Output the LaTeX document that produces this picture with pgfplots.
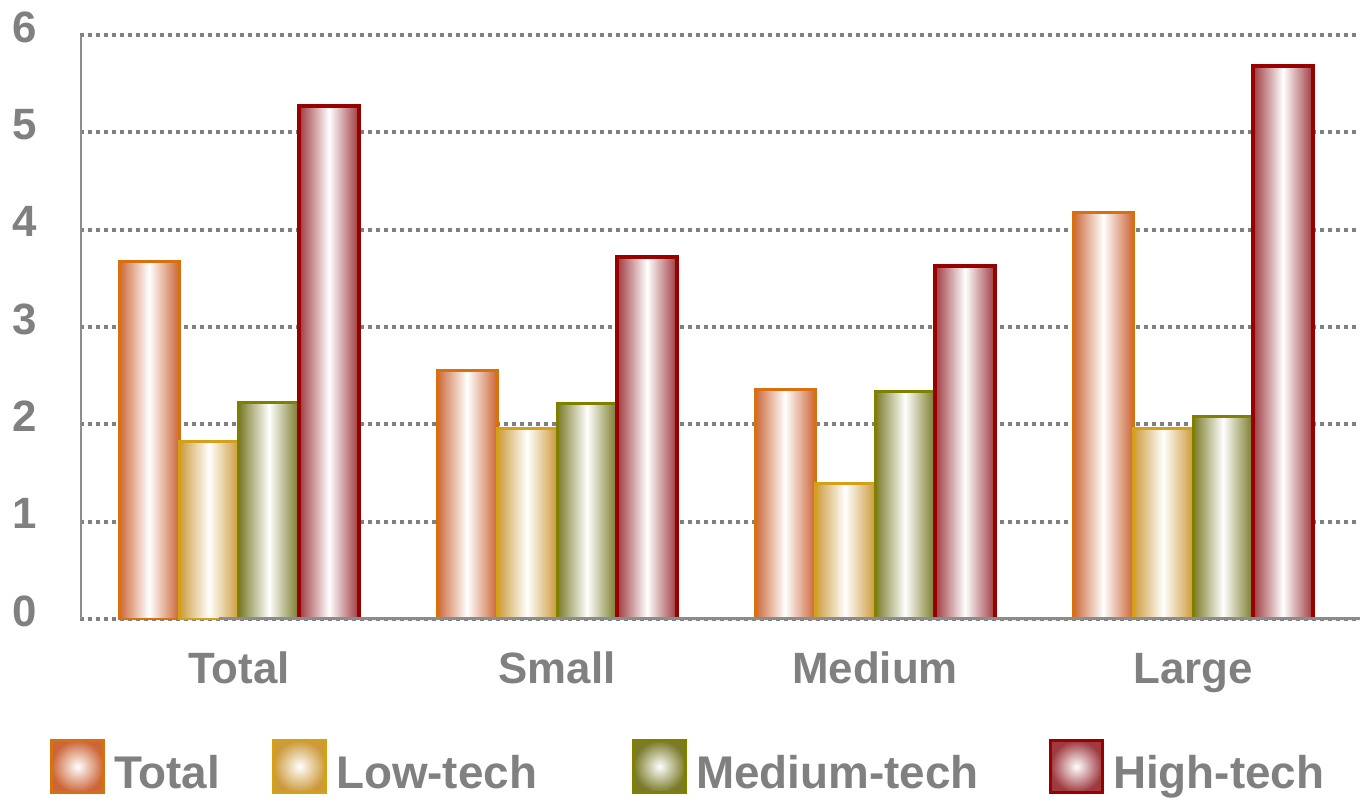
\documentclass[border=0pt]{standalone}
\usepackage{fontspec}
\setmainfont{Liberation Sans}
\usepackage{pgfplots}
\pgfplotsset{compat=1.18}
\definecolor{txtgray}{HTML}{808080}
\definecolor{axgray}{HTML}{8C8C8C}
\definecolor{cTot}{HTML}{D9700F}
\definecolor{cTotS}{HTML}{CC6638}
\definecolor{cLow}{HTML}{D4A017}
\definecolor{cLowS}{HTML}{CC9A3A}
\definecolor{cMed}{HTML}{808000}
\definecolor{cMedS}{HTML}{7A7A28}
\definecolor{cHigh}{HTML}{990000}
\definecolor{cHighS}{HTML}{9E3A40}
\pgfplotsset{
  sTot/.style={draw=cTot, line width=1.5bp, left color=cTotS, right color=cTotS, middle color=white, bar shift=-0.283,
    legend image code/.code={\path[draw=cTot, line width=1.5bp, inner color=white, outer color=cTotS] (0bp,-9.5bp) rectangle (26bp,16.5bp);}},
  sLow/.style={draw=cLow, line width=1.5bp, left color=cLowS, right color=cLowS, middle color=white, bar shift=-0.0943,
    legend image code/.code={\path[draw=cLow, line width=1.5bp, inner color=white, outer color=cLowS] (0bp,-9.5bp) rectangle (26bp,16.5bp);}},
  sMed/.style={draw=cMed, line width=1.5bp, left color=cMedS, right color=cMedS, middle color=white, bar shift=0.0943,
    legend image code/.code={\path[draw=cMed, line width=1.5bp, inner color=white, outer color=cMedS] (0bp,-9.5bp) rectangle (26bp,16.5bp);}},
  sHigh/.style={draw=cHigh, line width=2bp, left color=cHighS, right color=cHighS, middle color=white, bar shift=0.283,
    legend image code/.code={\path[draw=cHigh, line width=1.5bp, inner color=white, outer color=cHighS] (0bp,-9.5bp) rectangle (26bp,16.5bp);}},
}
\begin{document}
\begin{tikzpicture}
\useasboundingbox (-40bp,-89.5bp) rectangle (640bp,309.5bp);
\begin{axis}[
  at={(0,0)}, anchor=south west,
  scale only axis, width=640bp, height=292bp,
  xmin=-0.5, xmax=3.525, ymin=0, ymax=6,
  ybar=0pt, bar width=0.1887,
  xtick={0,1,2,3}, xticklabels={Total,Small,Medium,Large},
  ytick={0,1,2,3,4,5,6},
  major tick length=0pt,
  axis line style={draw=none},
  ymajorgrids,
  grid style={txtgray, line width=2bp, dash pattern=on 2bp off 2bp},
  tick label style={font=\fontsize{22}{26}\selectfont\bfseries, text=txtgray},
  /pgf/number format/assume math mode=true,
  yticklabel style={anchor=east, inner sep=0pt, xshift=-21.5bp, yshift=4bp},
  xticklabel style={anchor=base, inner sep=0pt, yshift=-32bp},
  legend columns=4,
  legend cell align=left,
  legend style={at={(0,0)}, anchor=south west, xshift=-15bp, yshift=-87.5bp,
    draw=none, fill=none, inner sep=0pt, outer sep=0pt,
    font=\fontsize{23}{27}\selectfont\bfseries, text=txtgray,
    nodes={inner sep=0pt},
    /tikz/every even column/.append style={column sep=0pt}},
]
% Total
\addplot[sTot] coordinates {(0,3.67)};
\addlegendentry{\hspace{4.5bp}\makebox[79bp][l]{Total}}
\addplot[sTot, forget plot] coordinates {(1,2.55)};
\addplot[sTot, forget plot] coordinates {(2,2.36)};
\addplot[sTot, forget plot] coordinates {(3,4.18)};
% Low-tech
\addplot[sLow] coordinates {(0,1.82)};
\addlegendentry{\hspace{4.5bp}\makebox[148bp][l]{Low-tech}}
\addplot[sLow, forget plot] coordinates {(1,1.96)};
\addplot[sLow, forget plot] coordinates {(2,1.39)};
\addplot[sLow, forget plot] coordinates {(3,1.96)};
% Medium-tech
\addplot[sMed] coordinates {(0,2.22)};
\addlegendentry{\hspace{4.5bp}\makebox[176.5bp][l]{Medium-tech}}
\addplot[sMed, forget plot] coordinates {(1,2.21)};
\addplot[sMed, forget plot] coordinates {(2,2.34)};
\addplot[sMed, forget plot] coordinates {(3,2.08)};
% High-tech
\addplot[sHigh] coordinates {(0,5.27)};
\addlegendentry{\hspace{4.5bp}High-tech}
\addplot[sHigh, forget plot] coordinates {(1,3.72)};
\addplot[sHigh, forget plot] coordinates {(2,3.63)};
\addplot[sHigh, forget plot] coordinates {(3,5.68)};
\draw[axgray, line width=1.6bp] (rel axis cs:0,0) -- (rel axis cs:0,1.003);
\draw[axgray, line width=1.6bp] (rel axis cs:0,0) ++(-10bp,0) -- (rel axis cs:1,0);
\end{axis}
\end{tikzpicture}
\end{document}
